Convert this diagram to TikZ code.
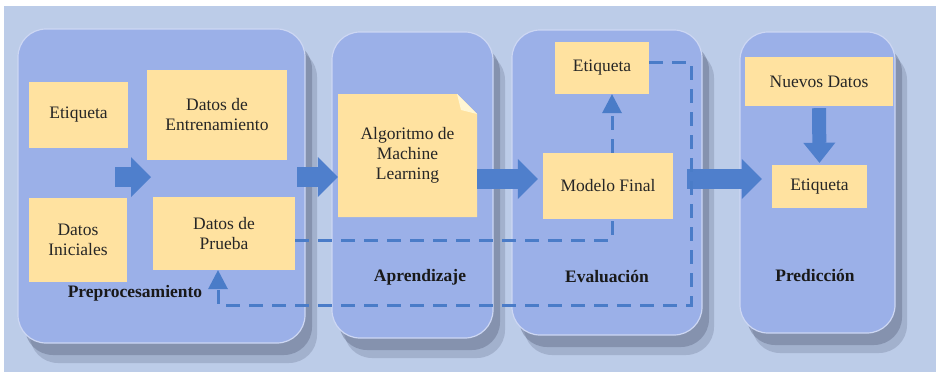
\documentclass[tikz,border=0pt]{standalone}
\usepackage{fontspec}
\setmainfont{Liberation Serif}
\usetikzlibrary{positioning,shadows,arrows.meta,calc}

\definecolor{bgblue}{RGB}{188,204,232}
\definecolor{panelblue}{RGB}{155,176,232}
\definecolor{boxyellow}{RGB}{255,226,160}
\definecolor{foldyellow}{RGB}{255,246,212}
\definecolor{arrowblue}{RGB}{79,127,204}
\definecolor{dashblue}{RGB}{74,124,200}
\definecolor{shadowgray}{RGB}{105,116,145}

\begin{document}
\begin{tikzpicture}[x=1pt, y=-1pt,
	panel/.style = {shape=rectangle, rounded corners=28pt, fill=panelblue,
		draw=white!50!panelblue, line width=1.2pt,
		drop shadow={shadow xshift=12pt, shadow yshift=-20pt, fill=shadowgray, opacity=.3},
		drop shadow={shadow xshift=7pt, shadow yshift=-12pt, fill=shadowgray, opacity=.5}},
	box/.style = {shape=rectangle, fill=boxyellow, align=center, inner sep=0pt,
		text=black!85, font=\fontsize{17.5}{20}\selectfont},
	algobox/.style = {path picture={
		\fill[boxyellow] (path picture bounding box.north west)
			-- ([xshift=-20pt]path picture bounding box.north east)
			-- ([yshift=-20pt]path picture bounding box.north east)
			-- (path picture bounding box.south east)
			-- (path picture bounding box.south west) -- cycle;
		\fill[foldyellow] ([xshift=-20pt]path picture bounding box.north east)
			-- ([yshift=-20pt]path picture bounding box.north east)
			-- ([xshift=-16pt,yshift=-16pt]path picture bounding box.north east) -- cycle;}},
	title/.style = {text=black!90, font=\fontsize{17.5}{20}\selectfont\bfseries},
	fatarrow/.style = {draw=arrowblue, line width=20pt,
		-{Triangle[length=20pt, width=40pt, line width=0pt]}},
	dashline/.style = {draw=dashblue, line width=3pt, dash pattern=on 14pt off 9pt},
	dashtip/.style = {-{Triangle[length=19pt, width=20pt, line width=0pt]}}]

	% background
	\fill[white] (0,0) rectangle (936,372);
	\fill[bgblue] (4,6) rectangle (936,372);
	\useasboundingbox (0,0) rectangle (936,372);

	% stages
	\node[panel, minimum width=287pt, minimum height=314pt] (prep) at (161.5,186) {};
	\node[panel, minimum width=161pt, minimum height=306pt] (apren) at (412.5,185) {};
	\node[panel, minimum width=190pt, minimum height=305pt] (eval) at (607,182.5) {};
	\node[panel, minimum width=155pt, minimum height=301pt] (pred) at (817.5,182.5) {};

	% Preprocesamiento
	\node[box, minimum width=99pt, minimum height=66pt] (etqA) at (78.5,115) {Etiqueta};
	\node[box, minimum width=140pt, minimum height=90pt] (entr) at (217,115) {Datos de\\Entrenamiento};
	\node[box, minimum width=98pt, minimum height=84pt] (ini) at (78,240) {Datos\\Iniciales};
	\node[box, minimum width=142pt, minimum height=73pt] (prueba) at (224,233.5) {Datos de\\Prueba};
	\node[title] (tprep) at (135,293) {Preprocesamiento};

	% Aprendizaje
	\node[box, fill=none, algobox, minimum width=139pt, minimum height=123pt] (algo) at (407.5,155.5) {Algoritmo de\\Machine\\Learning};
	\node[title] (tapren) at (420,277) {Aprendizaje};

	% Evaluacion
	\node[box, minimum width=94pt, minimum height=52pt] (etqB) at (602,68) {Etiqueta};
	\node[box, minimum width=130pt, minimum height=66pt] (modelo) at (608,186) {Modelo Final};
	\node[title] (teval) at (607,277) {Evaluación};

	% Prediccion
	\node[box, minimum width=148pt, minimum height=49pt] (nuevos) at (819,81.5) {Nuevos Datos};
	\node[box, minimum width=95pt, minimum height=43pt] (etqC) at (819.5,186.5) {Etiqueta};
	\node[title] (tpred) at (815,276) {Predicción};

	% block arrows
	\coordinate (a1from) at (115,177);
	\coordinate (a1to) at (151,177);
	\coordinate (a2from) at (297,177);
	\coordinate (a4from) at (687,179);
	\draw[fatarrow] (a1from) -- (a1to);
	\draw[fatarrow] (a2from) -- (a2from -| algo.west);
	\draw[fatarrow] ([yshift=-23.5pt]algo.east) -- ([xshift=-5pt,yshift=7pt]modelo.west);
	\draw[fatarrow, shorten >=10pt] (a4from) -- (a4from -| etqC.west);
	\draw[fatarrow, line width=14pt, -{Triangle[length=20pt, width=32pt, line width=0pt]}]
		([yshift=-2pt]nuevos.south) -- ([yshift=2pt]etqC.north);

	% dashed loops
	\coordinate (loopSE) at (691,305);
	\draw[dashline] ([yshift=-6.5pt]prueba.east) -| ([xshift=4pt]modelo.south);
	\draw[dashline, dashtip] ([xshift=4pt]modelo.north) -- ([xshift=4pt]modelo.north |- etqB.south);
	\draw[dashline, dashtip] ([yshift=6pt]etqB.east) -| (loopSE) -| ([xshift=-6pt]prueba.south);
\end{tikzpicture}
\end{document}
